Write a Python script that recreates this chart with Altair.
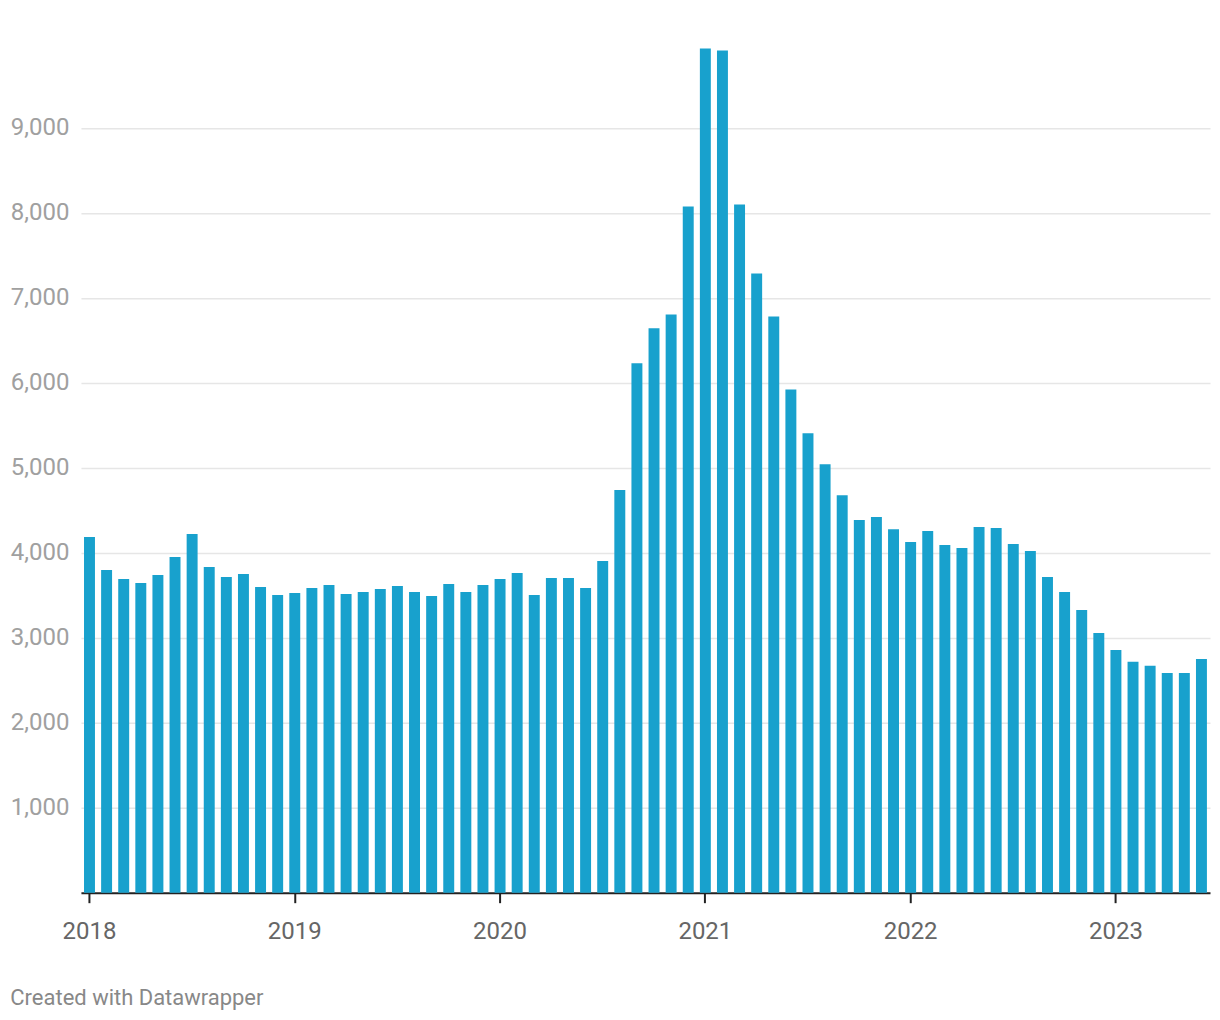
import altair as alt
import pandas as pd

years = ["2018", "2019", "2020", "2021", "2022", "2023"]
month_nums = ["01", "02", "03", "04", "05", "06", "07", "08", "09", "10", "11", "12"]
months = [f"{y}-{m}" for y in years for m in month_nums][:66]

values = [
    # 2018
    4185, 3797, 3691, 3644, 3738, 3949, 4220, 3832, 3715, 3750, 3597, 3503,
    # 2019
    3527, 3585, 3621, 3515, 3539, 3574, 3609, 3539, 3491, 3632, 3539, 3621,
    # 2020
    3691, 3762, 3503, 3703, 3703, 3585, 3902, 4737, 6229, 6641, 6805, 8075,
    # 2021
    9933, 9910, 8099, 7287, 6781, 5922, 5407, 5042, 4678, 4384, 4420, 4278,
    # 2022
    4126, 4255, 4090, 4055, 4302, 4290, 4102, 4020, 3715, 3539, 3327, 3056,
    # 2023
    2857, 2716, 2669, 2586, 2586, 2751,
]

year_ticks = [f"{y}-01" for y in years]
y_ticks = [1000, 2000, 3000, 4000, 5000, 6000, 7000, 8000, 9000]

df = pd.DataFrame({"month": months, "value": values})

chart = (
    alt.Chart(df)
    .mark_bar(color="#18a1cd")
    .encode(
        x=alt.X(
            "month:O",
            sort=None,
            scale=alt.Scale(paddingInner=0.36, paddingOuter=0.18),
            axis=alt.Axis(
                values=year_ticks,
                labelExpr="substring(datum.value, 0, 4)",
                labelAngle=0,
                title=None,
                grid=False,
                domain=True,
                domainColor="#222222",
                domainWidth=2,
                ticks=True,
                tickSize=10,
                tickWidth=2,
                tickColor="#222222",
                labelPadding=17,
                labelFont="Roboto",
                labelFontSize=24,
                labelColor="#666666",
            ),
        ),
        y=alt.Y(
            "value:Q",
            scale=alt.Scale(domain=[0, 9935], nice=False),
            axis=alt.Axis(
                values=y_ticks,
                format=",d",
                title=None,
                domain=False,
                ticks=False,
                grid=True,
                gridColor="#e6e6e6",
                gridWidth=1.5,
                labelPadding=12,
                labelFont="Roboto",
                labelFontSize=24,
                labelColor="#a0a0a0",
                minExtent=70,
                maxExtent=70,
            ),
        ),
    )
    .properties(
        width=1130,
        height=845,
        background="white",
        padding={"left": 10, "top": 48, "right": 10, "bottom": 10},
        title=alt.TitleParams(
            "Created with Datawrapper",
            orient="bottom",
            anchor="start",
            frame="bounds",
            font="Roboto",
            fontSize=22,
            fontWeight="normal",
            color="#888888",
            offset=44,
        ),
    )
    .configure_view(stroke="transparent", strokeWidth=0)
)

chart.save("out.html", embed_options={"renderer": "svg", "actions": False})
